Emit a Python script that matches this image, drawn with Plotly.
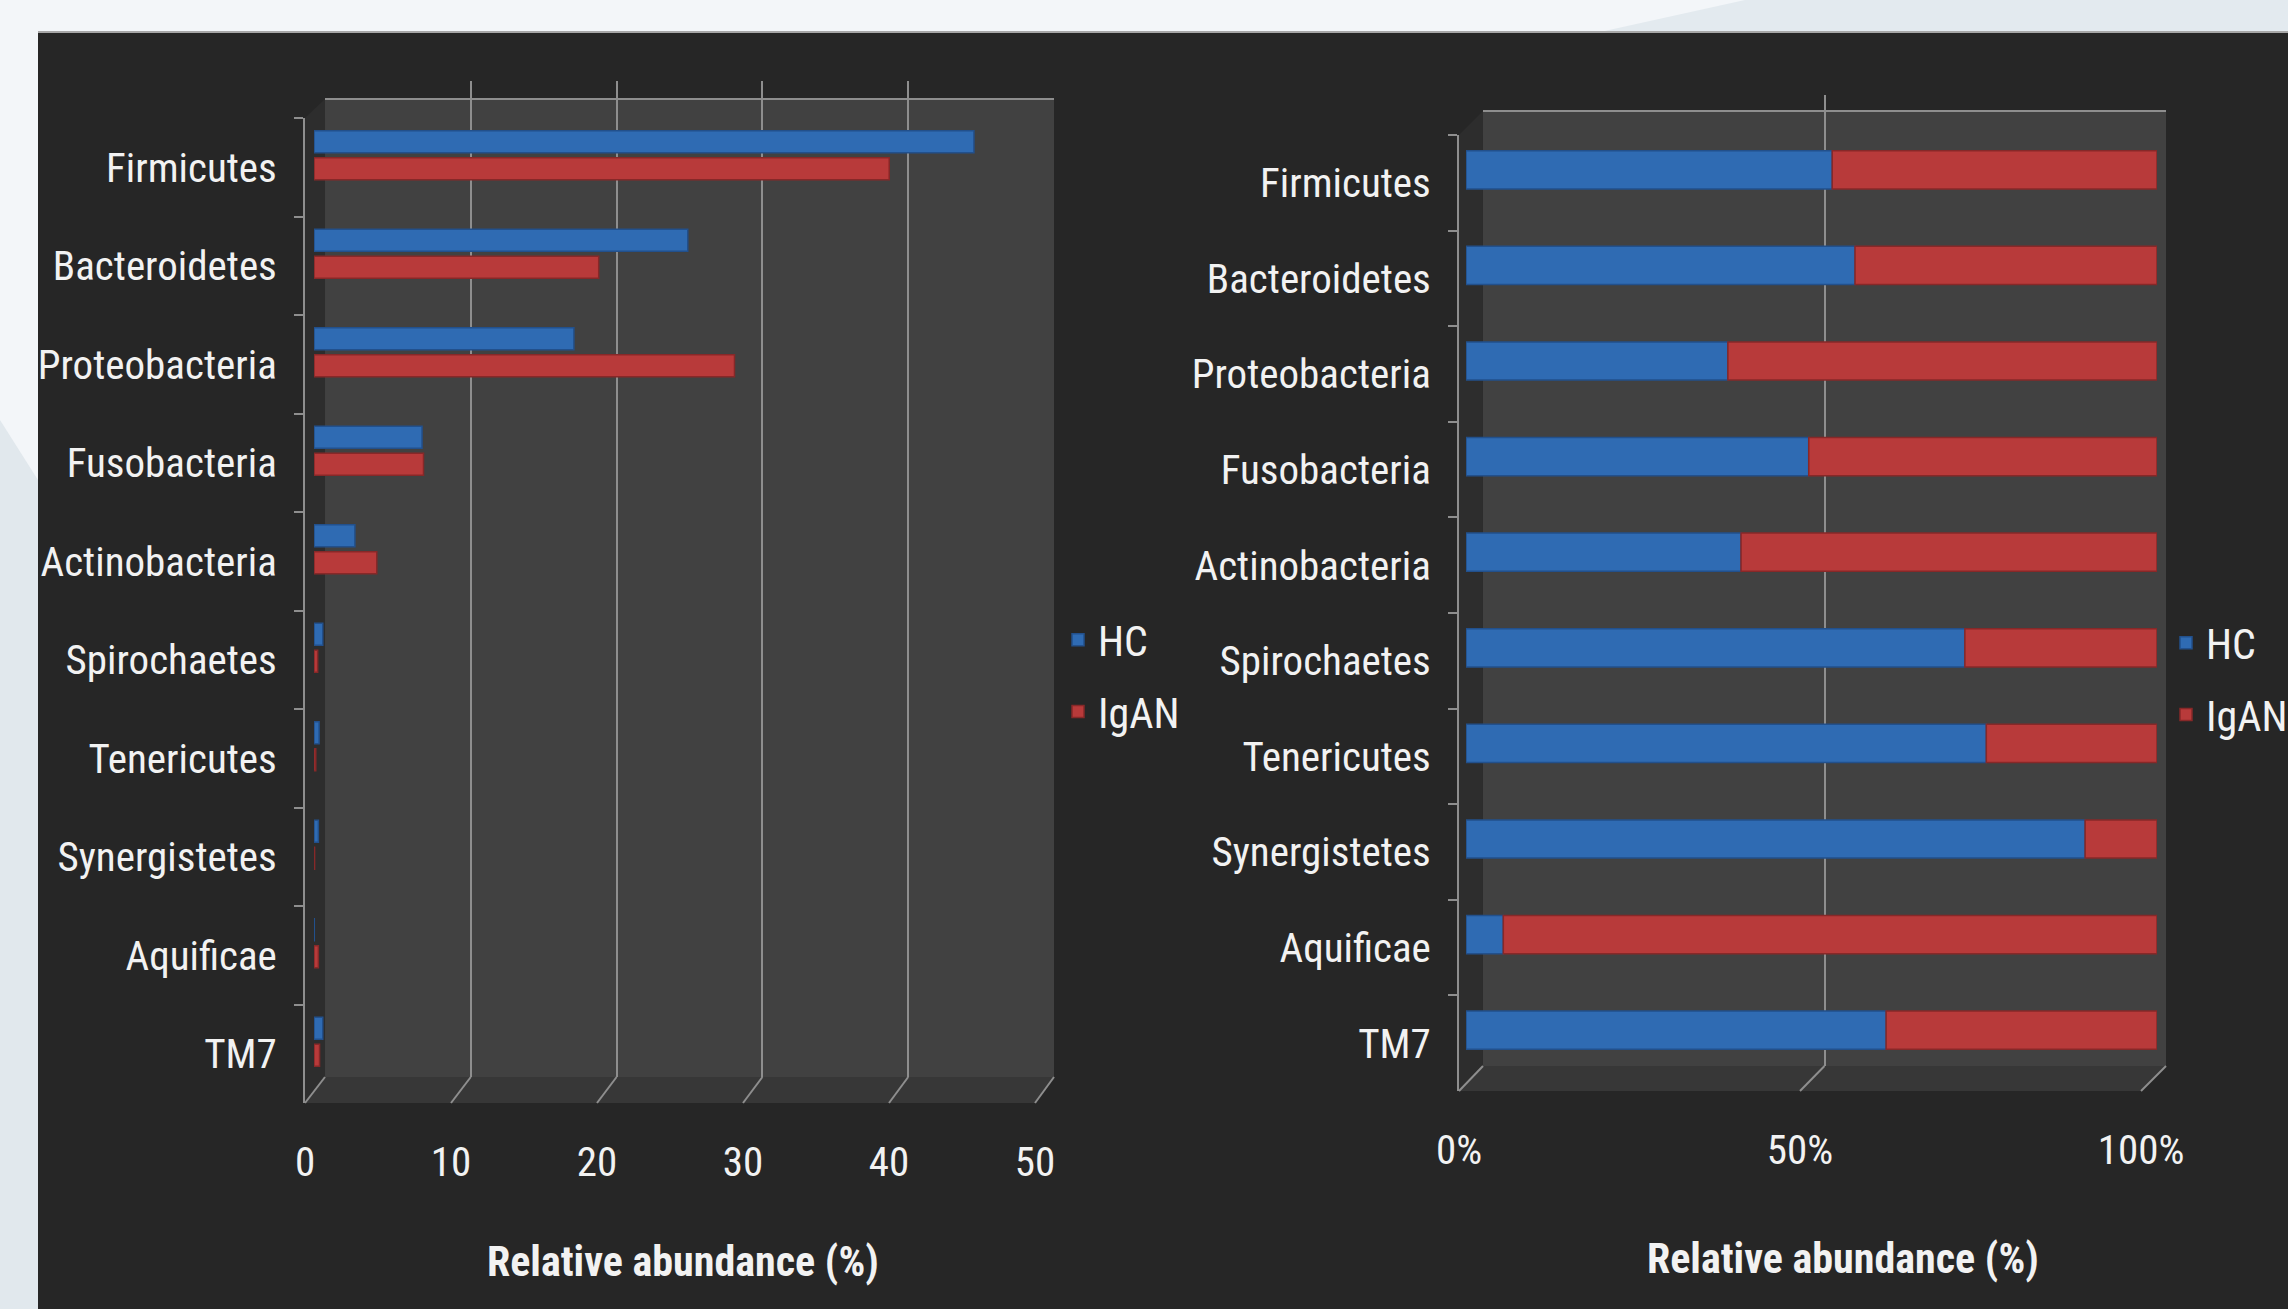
import plotly.graph_objects as go

W, H = 2288, 1309

# ---- data -------------------------------------------------------------
categories = ["Firmicutes", "Bacteroidetes", "Proteobacteria", "Fusobacteria",
              "Actinobacteria", "Spirochaetes", "Tenericutes", "Synergistetes",
              "Aquificae", "TM7"]

# mean relative abundance (%) per phylum
hc_abundance = [45.2, 25.6, 17.8, 7.4, 2.8, 0.6, 0.35, 0.3, 0.02, 0.6]
igan_abundance = [39.4, 19.5, 28.8, 7.5, 4.3, 0.25, 0.12, 0.04, 0.3, 0.38]

# share of each phylum's abundance held by each group (%)
hc_share = [53.0, 56.3, 37.9, 49.6, 39.8, 72.2, 75.3, 89.6, 5.4, 60.8]
igan_share = [47.0, 43.7, 62.1, 50.4, 60.2, 27.8, 24.7, 10.4, 94.6, 39.2]

abundance_ticks = [0, 10, 20, 30, 40, 50]
share_ticks = [0, 50, 100]
share_tick_labels = ["0%", "50%", "100%"]
axis_title = "Relative abundance (%)"
group_names = ["HC", "IgAN"]

# ---- style ------------------------------------------------------------
FONT = "Liberation Sans Narrow, Arial Narrow, Roboto Condensed, Liberation Sans, Arial, sans-serif"
TEXT = "#f2f2f2"
PANEL = "#262626"
WALL = "#414141"
SIDE = "#2d2d2d"
FLOOR = "#373737"
GRID = "#8e8e8e"
BLUE, BLUE_EDGE = "#2f6bb3", "#22508c"
RED, RED_EDGE = "#b83a3a", "#872828"


def fx(px):
    return px / W


def fy(py):
    return 1 - py / H


# pixel frames for the two 3-D style panels
left = dict(front_x=(305, 1035), front_y=(118, 1103),
            back_x=(325, 1054), back_y=(99, 1077), grid_top=81,
            bar_x=(314, 1044), bar_y=(106, 1091))
right = dict(front_x=(1459, 2141), front_y=(135, 1091),
             back_x=(1483, 2166), back_y=(111, 1066), grid_top=95,
             bar_x=(1466, 2157), bar_y=(122, 1078))

n = len(categories)
cat_range = [n - 0.5, -0.5]
tick_font = dict(family=FONT, size=41, color=TEXT)

fig = go.Figure()

# back walls (gridlines only)
fig.add_trace(go.Scatter(x=[], y=[], xaxis="x", yaxis="y", showlegend=False, hoverinfo="skip"))
fig.add_trace(go.Scatter(x=[], y=[], xaxis="x4", yaxis="y4", showlegend=False, hoverinfo="skip"))

# grouped abundance bars
fig.add_trace(go.Bar(
    x=hc_abundance, y=categories, orientation="h", name=group_names[0],
    xaxis="x2", yaxis="y2", width=0.223, offset=-0.249,
    marker=dict(color=BLUE, line=dict(color=BLUE_EDGE, width=1.5)),
    legend="legend", legendgroup="hc"))
fig.add_trace(go.Bar(
    x=igan_abundance, y=categories, orientation="h", name=group_names[1],
    xaxis="x2", yaxis="y2", width=0.223, offset=0.026,
    marker=dict(color=RED, line=dict(color=RED_EDGE, width=1.5)),
    legend="legend", legendgroup="igan"))

# 100% stacked share bars
fig.add_trace(go.Bar(
    x=hc_share, y=categories, orientation="h", name=group_names[0],
    xaxis="x5", yaxis="y5", width=0.4, offset=-0.2,
    marker=dict(color=BLUE, line=dict(color=BLUE_EDGE, width=1.5)),
    legend="legend2", legendgroup="hc"))
fig.add_trace(go.Bar(
    x=igan_share, y=categories, base=hc_share, orientation="h", name=group_names[1],
    xaxis="x5", yaxis="y5", width=0.4, offset=-0.2,
    marker=dict(color=RED, line=dict(color=RED_EDGE, width=1.5)),
    legend="legend2", legendgroup="igan"))

# front axes carrying the labels
fig.add_trace(go.Scatter(x=hc_abundance, y=categories, xaxis="x3", yaxis="y3", mode="markers",
                         marker=dict(opacity=0, size=1), showlegend=False, hoverinfo="skip"))
fig.add_trace(go.Scatter(x=hc_share, y=categories, xaxis="x6", yaxis="y6", mode="markers",
                         marker=dict(opacity=0, size=1), showlegend=False, hoverinfo="skip"))


def back_axes(p, rng, ticks):
    xa = dict(domain=[fx(p["back_x"][0]), fx(p["back_x"][1])], range=rng,
              tickvals=ticks, showgrid=True, gridcolor=GRID, gridwidth=2,
              showticklabels=False, ticks="", zeroline=False, showline=False,
              fixedrange=True)
    ya = dict(domain=[fy(p["back_y"][1]), fy(p["grid_top"])], range=[0, 1],
              visible=False, fixedrange=True)
    return xa, ya


def bar_axes(p, rng):
    xa = dict(domain=[fx(p["bar_x"][0]), fx(p["bar_x"][1])], range=rng,
              visible=False, fixedrange=True)
    ya = dict(domain=[fy(p["bar_y"][1]), fy(p["bar_y"][0])], type="category",
              categoryorder="array", categoryarray=categories, range=cat_range,
              visible=False, fixedrange=True)
    return xa, ya


def front_axes(p, rng, ticks, labels):
    xa = dict(domain=[fx(p["front_x"][0]), fx(p["front_x"][1])], range=rng,
              tickvals=ticks, ticktext=labels, showgrid=False, zeroline=False,
              showline=False, ticks="", tickfont=tick_font, ticklabelstandoff=31,
              fixedrange=True)
    ya = dict(domain=[fy(p["front_y"][1]), fy(p["front_y"][0])], type="category",
              categoryorder="array", categoryarray=categories, range=cat_range,
              tickson="boundaries", ticks="outside", ticklen=9, tickwidth=2,
              tickcolor=GRID, showline=True, linecolor=GRID, linewidth=2,
              showgrid=False, zeroline=False, tickfont=tick_font,
              ticklabelstandoff=18, fixedrange=True)
    return xa, ya


x1, y1 = back_axes(left, [0, 50], abundance_ticks)
x2, y2 = bar_axes(left, [0, 50])
x3, y3 = front_axes(left, [0, 50], abundance_ticks, [str(t) for t in abundance_ticks])
x4, y4 = back_axes(right, [0, 100], share_ticks)
x5, y5 = bar_axes(right, [0, 100])
x6, y6 = front_axes(right, [0, 100], share_ticks, share_tick_labels)

for i, (xa, ya) in enumerate([(x1, y1), (x2, y2), (x3, y3), (x4, y4), (x5, y5), (x6, y6)], 1):
    sx = "" if i == 1 else str(i)
    xa["anchor"] = "y" + sx
    ya["anchor"] = "x" + sx
    fig.update_layout(**{"xaxis" + sx: xa, "yaxis" + sx: ya})


# ---- background and 3-D frame shapes ----------------------------------
def path(points):
    s = "M " + " L ".join(f"{fx(a):.5f},{fy(b):.5f}" for a, b in points)
    return s + " Z"


shapes = [
    dict(type="path", path=path([(1600, 32), (1745, 0), (W, 0), (W, 32)]),
         xref="paper", yref="paper", fillcolor="#e3eaef", line=dict(width=0), layer="below"),
    dict(type="path", path=path([(0, 420), (38, 480), (38, H), (0, H)]),
         xref="paper", yref="paper", fillcolor="#e1e8ed", line=dict(width=0), layer="below"),
    dict(type="rect", x0=fx(38), x1=fx(W), y0=fy(32), y1=fy(H), xref="paper", yref="paper",
         fillcolor=PANEL, line=dict(width=0), layer="below"),
    dict(type="line", x0=fx(38), x1=fx(W), y0=fy(32), y1=fy(32), xref="paper", yref="paper",
         line=dict(color="#a7a7a7", width=2), layer="below"),
]


def frame(p, ticks, tmax):
    (fx0, fx1), (fy0, fy1) = p["front_x"], p["front_y"]
    (bx0, bx1), (by0, by1) = p["back_x"], p["back_y"]
    out = [
        dict(type="rect", x0=fx(bx0), x1=fx(bx1), y0=fy(by1), y1=fy(by0),
             xref="paper", yref="paper", fillcolor=WALL, line=dict(width=0), layer="below"),
        dict(type="path", path=path([(fx0, fy0), (bx0, by0), (bx0, by1), (fx0, fy1)]),
             xref="paper", yref="paper", fillcolor=SIDE, line=dict(width=0), layer="below"),
        dict(type="path", path=path([(fx0, fy1), (fx1, fy1), (bx1, by1), (bx0, by1)]),
             xref="paper", yref="paper", fillcolor=FLOOR, line=dict(width=0), layer="below"),
        dict(type="line", x0=fx(bx0), x1=fx(bx1), y0=fy(by0), y1=fy(by0),
             xref="paper", yref="paper", line=dict(color=GRID, width=2), layer="below"),
    ]
    for t in ticks:
        f = t / tmax
        out.append(dict(type="line",
                        x0=fx(fx0 + f * (fx1 - fx0)), y0=fy(fy1),
                        x1=fx(bx0 + f * (bx1 - bx0)), y1=fy(by1),
                        xref="paper", yref="paper", line=dict(color=GRID, width=2), layer="below"))
    return out


shapes += frame(left, abundance_ticks, 50)
shapes += frame(right, share_ticks, 100)

legend_style = dict(xref="container", yref="container", xanchor="left", yanchor="top",
                    bgcolor="rgba(0,0,0,0)", font=dict(family=FONT, size=42, color=TEXT),
                    traceorder="grouped", tracegroupgap=14, itemwidth=30)

title_font = dict(family=FONT, size=42, color=TEXT)

fig.update_layout(
    width=W, height=H,
    margin=dict(l=0, r=0, t=0, b=0, autoexpand=False),
    paper_bgcolor="#f3f6f9",
    plot_bgcolor="rgba(0,0,0,0)",
    barmode="overlay",
    font=dict(family=FONT, color=TEXT),
    shapes=shapes,
    legend=dict(x=fx(1058), y=1 - 606 / H, **legend_style),
    legend2=dict(x=fx(2166), y=1 - 609 / H, **legend_style),
    annotations=[
        dict(text=f"<b>{axis_title}</b>", x=fx(683), y=fy(1261), xref="paper", yref="paper",
             xanchor="center", yanchor="middle", showarrow=False, font=title_font),
        dict(text=f"<b>{axis_title}</b>", x=fx(1843), y=fy(1258), xref="paper", yref="paper",
             xanchor="center", yanchor="middle", showarrow=False, font=title_font),
    ],
)

fig.write_html("out.html")
